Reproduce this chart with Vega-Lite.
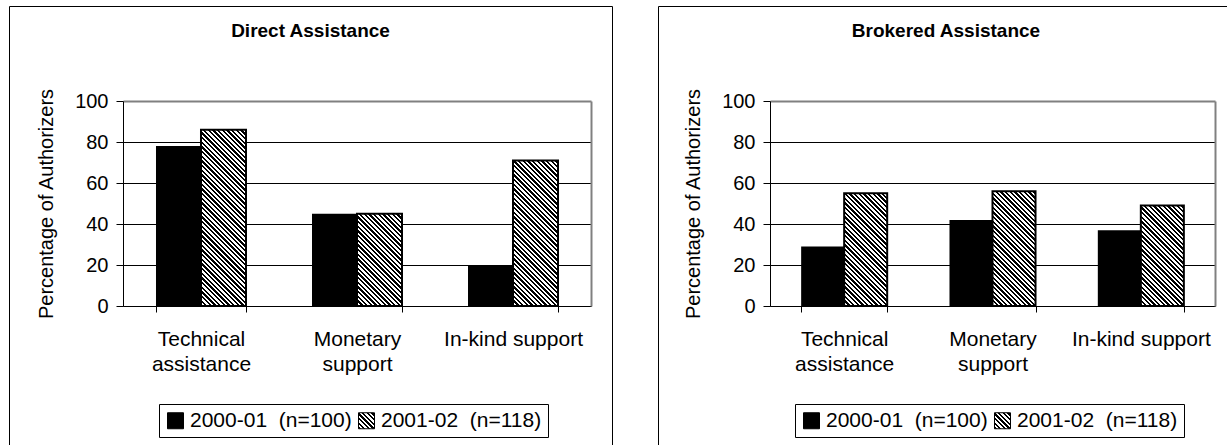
{
  "$schema": "https://vega.github.io/schema/vega-lite/v6.json",
  "padding": {"left": 8, "top": 5, "right": 0, "bottom": 0},
  "autosize": {"type": "pad"},
  "background": "white",
  "spacing": 44,
  "resolve": {
    "scale": {"x": "independent", "y": "independent", "xOffset": "independent", "fill": "independent"},
    "axis": {"x": "independent", "y": "independent"},
    "legend": {"fill": "independent"}
  },
  "params": [
    {"name": "hatchStops", "value": [
      {"offset":0,"color":"#000"},
      {"offset":0.01,"color":"#000"},{"offset":0.01,"color":"#fff"},
      {"offset":0.02,"color":"#fff"},{"offset":0.02,"color":"#000"},
      {"offset":0.03,"color":"#000"},{"offset":0.03,"color":"#fff"},
      {"offset":0.04,"color":"#fff"},{"offset":0.04,"color":"#000"},
      {"offset":0.05,"color":"#000"},{"offset":0.05,"color":"#fff"},
      {"offset":0.06,"color":"#fff"},{"offset":0.06,"color":"#000"},
      {"offset":0.07,"color":"#000"},{"offset":0.07,"color":"#fff"},
      {"offset":0.08,"color":"#fff"},{"offset":0.08,"color":"#000"},
      {"offset":0.09,"color":"#000"},{"offset":0.09,"color":"#fff"},
      {"offset":0.10,"color":"#fff"},{"offset":0.10,"color":"#000"},
      {"offset":0.11,"color":"#000"},{"offset":0.11,"color":"#fff"},
      {"offset":0.12,"color":"#fff"},{"offset":0.12,"color":"#000"},
      {"offset":0.13,"color":"#000"},{"offset":0.13,"color":"#fff"},
      {"offset":0.14,"color":"#fff"},{"offset":0.14,"color":"#000"},
      {"offset":0.15,"color":"#000"},{"offset":0.15,"color":"#fff"},
      {"offset":0.16,"color":"#fff"},{"offset":0.16,"color":"#000"},
      {"offset":0.17,"color":"#000"},{"offset":0.17,"color":"#fff"},
      {"offset":0.18,"color":"#fff"},{"offset":0.18,"color":"#000"},
      {"offset":0.19,"color":"#000"},{"offset":0.19,"color":"#fff"},
      {"offset":0.20,"color":"#fff"},{"offset":0.20,"color":"#000"},
      {"offset":0.21,"color":"#000"},{"offset":0.21,"color":"#fff"},
      {"offset":0.22,"color":"#fff"},{"offset":0.22,"color":"#000"},
      {"offset":0.23,"color":"#000"},{"offset":0.23,"color":"#fff"},
      {"offset":0.24,"color":"#fff"},{"offset":0.24,"color":"#000"},
      {"offset":0.25,"color":"#000"},{"offset":0.25,"color":"#fff"},
      {"offset":0.26,"color":"#fff"},{"offset":0.26,"color":"#000"},
      {"offset":0.27,"color":"#000"},{"offset":0.27,"color":"#fff"},
      {"offset":0.28,"color":"#fff"},{"offset":0.28,"color":"#000"},
      {"offset":0.29,"color":"#000"},{"offset":0.29,"color":"#fff"},
      {"offset":0.30,"color":"#fff"},{"offset":0.30,"color":"#000"},
      {"offset":0.31,"color":"#000"},{"offset":0.31,"color":"#fff"},
      {"offset":0.32,"color":"#fff"},{"offset":0.32,"color":"#000"},
      {"offset":0.33,"color":"#000"},{"offset":0.33,"color":"#fff"},
      {"offset":0.34,"color":"#fff"},{"offset":0.34,"color":"#000"},
      {"offset":0.35,"color":"#000"},{"offset":0.35,"color":"#fff"},
      {"offset":0.36,"color":"#fff"},{"offset":0.36,"color":"#000"},
      {"offset":0.37,"color":"#000"},{"offset":0.37,"color":"#fff"},
      {"offset":0.38,"color":"#fff"},{"offset":0.38,"color":"#000"},
      {"offset":0.39,"color":"#000"},{"offset":0.39,"color":"#fff"},
      {"offset":0.40,"color":"#fff"},{"offset":0.40,"color":"#000"},
      {"offset":0.41,"color":"#000"},{"offset":0.41,"color":"#fff"},
      {"offset":0.42,"color":"#fff"},{"offset":0.42,"color":"#000"},
      {"offset":0.43,"color":"#000"},{"offset":0.43,"color":"#fff"},
      {"offset":0.44,"color":"#fff"},{"offset":0.44,"color":"#000"},
      {"offset":0.45,"color":"#000"},{"offset":0.45,"color":"#fff"},
      {"offset":0.46,"color":"#fff"},{"offset":0.46,"color":"#000"},
      {"offset":0.47,"color":"#000"},{"offset":0.47,"color":"#fff"},
      {"offset":0.48,"color":"#fff"},{"offset":0.48,"color":"#000"},
      {"offset":0.49,"color":"#000"},{"offset":0.49,"color":"#fff"},
      {"offset":0.50,"color":"#fff"},{"offset":0.50,"color":"#000"},
      {"offset":0.51,"color":"#000"},{"offset":0.51,"color":"#fff"},
      {"offset":0.52,"color":"#fff"},{"offset":0.52,"color":"#000"},
      {"offset":0.53,"color":"#000"},{"offset":0.53,"color":"#fff"},
      {"offset":0.54,"color":"#fff"},{"offset":0.54,"color":"#000"},
      {"offset":0.55,"color":"#000"},{"offset":0.55,"color":"#fff"},
      {"offset":0.56,"color":"#fff"},{"offset":0.56,"color":"#000"},
      {"offset":0.57,"color":"#000"},{"offset":0.57,"color":"#fff"},
      {"offset":0.58,"color":"#fff"},{"offset":0.58,"color":"#000"},
      {"offset":0.59,"color":"#000"},{"offset":0.59,"color":"#fff"},
      {"offset":0.60,"color":"#fff"},{"offset":0.60,"color":"#000"},
      {"offset":0.61,"color":"#000"},{"offset":0.61,"color":"#fff"},
      {"offset":0.62,"color":"#fff"},{"offset":0.62,"color":"#000"},
      {"offset":0.63,"color":"#000"},{"offset":0.63,"color":"#fff"},
      {"offset":0.64,"color":"#fff"},{"offset":0.64,"color":"#000"},
      {"offset":0.65,"color":"#000"},{"offset":0.65,"color":"#fff"},
      {"offset":0.66,"color":"#fff"},{"offset":0.66,"color":"#000"},
      {"offset":0.67,"color":"#000"},{"offset":0.67,"color":"#fff"},
      {"offset":0.68,"color":"#fff"},{"offset":0.68,"color":"#000"},
      {"offset":0.69,"color":"#000"},{"offset":0.69,"color":"#fff"},
      {"offset":0.70,"color":"#fff"},{"offset":0.70,"color":"#000"},
      {"offset":0.71,"color":"#000"},{"offset":0.71,"color":"#fff"},
      {"offset":0.72,"color":"#fff"},{"offset":0.72,"color":"#000"},
      {"offset":0.73,"color":"#000"},{"offset":0.73,"color":"#fff"},
      {"offset":0.74,"color":"#fff"},{"offset":0.74,"color":"#000"},
      {"offset":0.75,"color":"#000"},{"offset":0.75,"color":"#fff"},
      {"offset":0.76,"color":"#fff"},{"offset":0.76,"color":"#000"},
      {"offset":0.77,"color":"#000"},{"offset":0.77,"color":"#fff"},
      {"offset":0.78,"color":"#fff"},{"offset":0.78,"color":"#000"},
      {"offset":0.79,"color":"#000"},{"offset":0.79,"color":"#fff"},
      {"offset":0.80,"color":"#fff"},{"offset":0.80,"color":"#000"},
      {"offset":0.81,"color":"#000"},{"offset":0.81,"color":"#fff"},
      {"offset":0.82,"color":"#fff"},{"offset":0.82,"color":"#000"},
      {"offset":0.83,"color":"#000"},{"offset":0.83,"color":"#fff"},
      {"offset":0.84,"color":"#fff"},{"offset":0.84,"color":"#000"},
      {"offset":0.85,"color":"#000"},{"offset":0.85,"color":"#fff"},
      {"offset":0.86,"color":"#fff"},{"offset":0.86,"color":"#000"},
      {"offset":0.87,"color":"#000"},{"offset":0.87,"color":"#fff"},
      {"offset":0.88,"color":"#fff"},{"offset":0.88,"color":"#000"},
      {"offset":0.89,"color":"#000"},{"offset":0.89,"color":"#fff"},
      {"offset":0.90,"color":"#fff"},{"offset":0.90,"color":"#000"},
      {"offset":0.91,"color":"#000"},{"offset":0.91,"color":"#fff"},
      {"offset":0.92,"color":"#fff"},{"offset":0.92,"color":"#000"},
      {"offset":0.93,"color":"#000"},{"offset":0.93,"color":"#fff"},
      {"offset":0.94,"color":"#fff"},{"offset":0.94,"color":"#000"},
      {"offset":0.95,"color":"#000"},{"offset":0.95,"color":"#fff"},
      {"offset":0.96,"color":"#fff"},{"offset":0.96,"color":"#000"},
      {"offset":0.97,"color":"#000"},{"offset":0.97,"color":"#fff"},
      {"offset":0.98,"color":"#fff"},{"offset":0.98,"color":"#000"},
      {"offset":0.99,"color":"#000"},{"offset":0.99,"color":"#fff"},
      {"offset":1,"color":"#fff"}
    ]}
  ],
  "config": {
    "font": "Liberation Sans",
    "view": {"stroke": "black", "strokeWidth": 1},
    "axis": {"labelFont": "Liberation Sans", "titleFont": "Liberation Sans", "labelColor": "black", "titleColor": "black"},
    "title": {"font": "Liberation Sans", "fontSize": 19, "fontWeight": "bold", "color": "black", "anchor": "middle", "baseline": "middle", "offset": -35},
    "legend": {
      "orient": "none", "direction": "horizontal", "title": null,
      "strokeColor": "black", "fillColor": "white", "padding": 6,
      "symbolType": "square", "symbolSize": 256, "symbolStrokeColor": "black", "symbolStrokeWidth": 1, "symbolOpacity": 1,
      "labelFont": "Liberation Sans", "labelFontSize": 21, "labelColor": "black", "labelOffset": 4, "columnPadding": 4, "labelLimit": 300
    }
  },
  "data": {"values": [
    {"panel": "Direct", "category": "Technical assistance", "year": "2000-01", "pct": 78},
    {"panel": "Direct", "category": "Technical assistance", "year": "2001-02", "pct": 86},
    {"panel": "Direct", "category": "Monetary support", "year": "2000-01", "pct": 45},
    {"panel": "Direct", "category": "Monetary support", "year": "2001-02", "pct": 45},
    {"panel": "Direct", "category": "In-kind support", "year": "2000-01", "pct": 20},
    {"panel": "Direct", "category": "In-kind support", "year": "2001-02", "pct": 71},
    {"panel": "Brokered", "category": "Technical assistance", "year": "2000-01", "pct": 29},
    {"panel": "Brokered", "category": "Technical assistance", "year": "2001-02", "pct": 55},
    {"panel": "Brokered", "category": "Monetary support", "year": "2000-01", "pct": 42},
    {"panel": "Brokered", "category": "Monetary support", "year": "2001-02", "pct": 56},
    {"panel": "Brokered", "category": "In-kind support", "year": "2000-01", "pct": 37},
    {"panel": "Brokered", "category": "In-kind support", "year": "2001-02", "pct": 49}
  ]},
  "hconcat": [
    {
      "width": 603, "height": 440,
      "title": {"text": "Direct Assistance"},
      "transform": [{"filter": "datum.panel == 'Direct'"}],
      "encoding": {
        "x": {"field": "category", "type": "nominal", "sort": ["Technical assistance", "Monetary support", "In-kind support"],
          "scale": {"range": [114, 582], "paddingInner": 0.4231, "paddingOuter": 0.2115},
          "axis": {"orient": "bottom", "offset": -140, "title": null, "tickBand": "extent", "tickSize": 6, "tickColor": "black", "domainColor": "black",
            "labelPadding": 16, "labelFontSize": 21, "labelLineHeight": 25, "labelAngle": 0, "labelOverlap": false, "labelBaseline": "top",
            "labelExpr": "!isValid(datum.value) ? '' : datum.value == 'In-kind support' ? datum.value : split(datum.value, ' ')", "grid": false}},
        "xOffset": {"field": "year", "type": "nominal", "scale": {"paddingInner": 0, "paddingOuter": 0}}
      },
      "layer": [
        {
          "mark": {"type": "bar", "strokeWidth": 0},
          "encoding": {
            "y": {"field": "pct", "type": "quantitative", "scale": {"domain": [0, 100], "range": [300, 95], "nice": false},
              "axis": {"orient": "left", "offset": -114, "values": [0, 20, 40, 60, 80, 100], "tickSize": 7, "tickColor": "black", "domainColor": "black",
                "labelFontSize": 20, "labelPadding": 8, "title": "Percentage of Authorizers", "titleFontSize": 20, "titleFontWeight": "normal",
                "titleX": -77, "titleBaseline": "middle", "titleAngle": -90,
                "grid": true,
                "gridColor": {"condition": {"test": "datum.value === 100", "value": "#808080"}, "value": "black"},
                "gridWidth": {"condition": {"test": "datum.value === 100", "value": 2}, "value": 1},
                "gridOpacity": 1}},
            "fill": {"field": "year", "type": "nominal",
              "scale": {"range": ["black", {"expr": "{gradient: 'linear', x1: 0, y1: 1, x2: 7.29, y2: -6.29, stops: hatchStops}"}]},
              "legend": {"legendX": 150, "legendY": 398,
                "labelExpr": "datum.label == '2000-01' ? '2000-01\u00a0 (n=100)' : '2001-02\u00a0 (n=118)'"}}
          }
        },
        {
          "transform": [{"filter": "datum.year == '2001-02'"}],
          "mark": {"type": "bar", "stroke": "black", "strokeWidth": 2},
          "encoding": {
            "y": {"field": "pct", "type": "quantitative",
              "axis": {"orient": "right", "offset": -21, "labels": false, "ticks": false, "grid": false, "title": null, "domainColor": "#808080", "domainWidth": 2}},
            "fill": {"value": {"expr": "{gradient: 'linear', x1: 0, y1: 1, x2: 233.35/(45 + pow(datum.pct*2.05, 2)/45), y2: 1 - (233.35/(45 + pow(datum.pct*2.05, 2)/45))*(datum.pct*2.05/45), stops: hatchStops}"}}
          }
        }
      ],
      "resolve": {"axis": {"y": "independent"}}
    },
    {
      "width": 572, "height": 440,
      "title": {"text": "Brokered Assistance", "dx": 2},
      "transform": [{"filter": "datum.panel == 'Brokered'"}],
      "encoding": {
        "x": {"field": "category", "type": "nominal", "sort": ["Technical assistance", "Monetary support", "In-kind support"],
          "scale": {"range": [112, 557], "paddingInner": 0.42, "paddingOuter": 0.21},
          "axis": {"orient": "bottom", "offset": -140, "title": null, "tickBand": "extent", "tickSize": 6, "tickColor": "black", "domainColor": "black",
            "labelPadding": 16, "labelFontSize": 21, "labelLineHeight": 25, "labelAngle": 0, "labelOverlap": false, "labelBaseline": "top",
            "labelExpr": "!isValid(datum.value) ? '' : datum.value == 'In-kind support' ? datum.value : split(datum.value, ' ')", "grid": false}},
        "xOffset": {"field": "year", "type": "nominal", "scale": {"paddingInner": 0, "paddingOuter": 0}}
      },
      "layer": [
        {
          "mark": {"type": "bar", "strokeWidth": 0},
          "encoding": {
            "y": {"field": "pct", "type": "quantitative", "scale": {"domain": [0, 100], "range": [300, 95], "nice": false},
              "axis": {"orient": "left", "offset": -112, "values": [0, 20, 40, 60, 80, 100], "tickSize": 7, "tickColor": "black", "domainColor": "black",
                "labelFontSize": 20, "labelPadding": 8, "title": "Percentage of Authorizers", "titleFontSize": 20, "titleFontWeight": "normal",
                "titleX": -77, "titleBaseline": "middle", "titleAngle": -90,
                "grid": true,
                "gridColor": {"condition": {"test": "datum.value === 100", "value": "#808080"}, "value": "black"},
                "gridWidth": {"condition": {"test": "datum.value === 100", "value": 2}, "value": 1},
                "gridOpacity": 1}},
            "fill": {"field": "year", "type": "nominal",
              "scale": {"range": ["black", {"expr": "{gradient: 'linear', x1: 0, y1: 1, x2: 7.29, y2: -6.29, stops: hatchStops}"}]},
              "legend": {"legendX": 137, "legendY": 398,
                "labelExpr": "datum.label == '2000-01' ? '2000-01\u00a0 (n=100)' : '2001-02\u00a0 (n=118)'"}}
          }
        },
        {
          "transform": [{"filter": "datum.year == '2001-02'"}],
          "mark": {"type": "bar", "stroke": "black", "strokeWidth": 2},
          "encoding": {
            "y": {"field": "pct", "type": "quantitative",
              "axis": {"orient": "right", "offset": -15, "labels": false, "ticks": false, "grid": false, "title": null, "domainColor": "#808080", "domainWidth": 2}},
            "fill": {"value": {"expr": "{gradient: 'linear', x1: 0, y1: 1, x2: 233.35/(43 + pow(datum.pct*2.05, 2)/43), y2: 1 - (233.35/(43 + pow(datum.pct*2.05, 2)/43))*(datum.pct*2.05/43), stops: hatchStops}"}}
          }
        }
      ],
      "resolve": {"axis": {"y": "independent"}}
    }
  ]
}
